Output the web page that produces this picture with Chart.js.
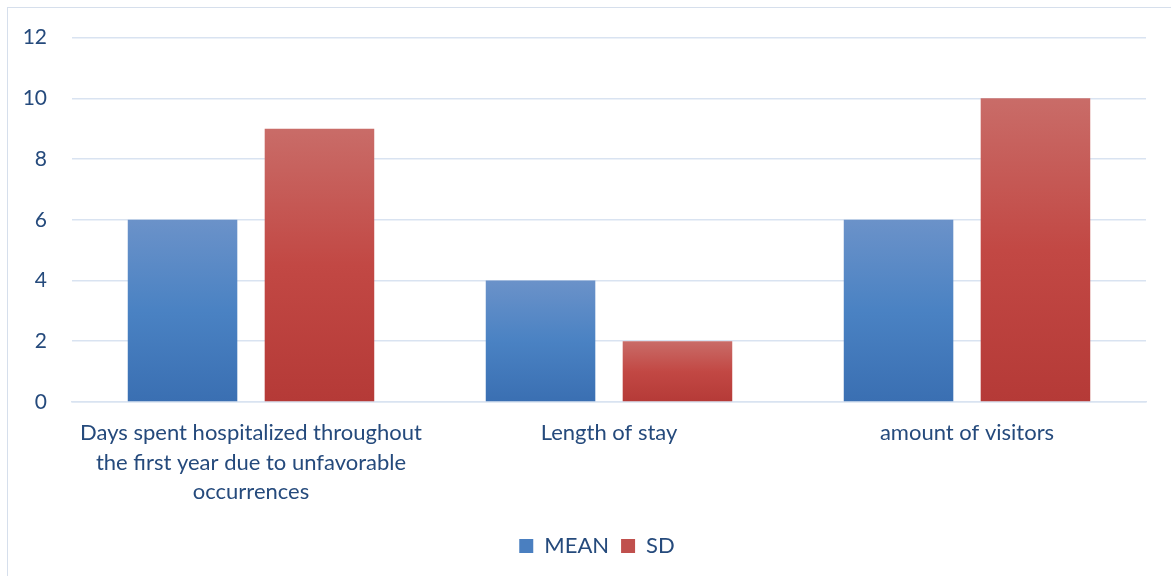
<!DOCTYPE html>
<html><head><meta charset="utf-8">
<script src="https://cdn.jsdelivr.net/npm/chart.js@4/dist/chart.umd.min.js"></script>
<style>
html,body{margin:0;padding:0;background:#fff;}
#frame{position:absolute;left:7px;top:7px;width:1200px;height:600px;border-left:1.5px solid #d6dfec;border-top:1.5px solid #d6dfec;}
#wrap{position:absolute;left:0;top:0;width:1171px;height:576px;}
</style></head>
<body>
<div id="frame"></div>
<div id="wrap"><canvas id="c" width="1171" height="576"></canvas></div>
<script>
const categories = [
  ["Days spent hospitalized throughout","the first year due to unfavorable","occurrences"],
  ["Length of stay"],
  ["amount of visitors"]
];
const meanValues = [6, 4, 6];
const sdValues = [9, 2, 10];
const seriesNames = ["MEAN", "SD"];
const yTicks = [0, 2, 4, 6, 8, 10, 12];

const textColor = '#254a7c';
const fontFam = 'Lato, "Open Sans", sans-serif';

function grad(top, mid, bottom) {
  return function(ctx) {
    const chart = ctx.chart;
    if (!chart.chartArea || ctx.type !== 'data') return bottom;
    const y = chart.scales.y;
    const yTop = y.getPixelForValue(ctx.raw);
    const yBot = y.getPixelForValue(0);
    const g = chart.ctx.createLinearGradient(0, yTop, 0, yBot);
    g.addColorStop(0, top);
    g.addColorStop(0.5, mid);
    g.addColorStop(1, bottom);
    return g;
  };
}

new Chart(document.getElementById('c'), {
  type: 'bar',
  data: {
    labels: categories,
    datasets: [
      { label: seriesNames[0], data: meanValues, backgroundColor: grad('#6b92c9', '#4a82c3', '#3a6fb2'), borderWidth: 0,
        categoryPercentage: 0.765, barPercentage: 0.8 },
      { label: seriesNames[1], data: sdValues, backgroundColor: grad('#c96c68', '#c24844', '#b53a37'), borderWidth: 0,
        categoryPercentage: 0.765, barPercentage: 0.8 }
    ]
  },
  options: {
    responsive: false,
    animation: false,
    devicePixelRatio: 1,
    layout: { padding: { left: 48, right: 25, top: 27, bottom: 9 } },
    plugins: {
      tooltip: { enabled: false },
      legend: {
        position: 'bottom',
        labels: {
          color: textColor,
          font: { family: fontFam, size: 22 },
          boxWidth: 14, boxHeight: 14,
          padding: 12,
          generateLabels: function(chart) {
            const cols = ['#4a7fc0', '#c0504d'];
            return chart.data.datasets.map((d, i) => ({
              text: d.label, fillStyle: cols[i], strokeStyle: cols[i], lineWidth: 0,
              fontColor: textColor, datasetIndex: i, hidden: false
            }));
          }
        }
      }
    },
    scales: {
      x: {
        grid: { display: false, drawTicks: false },
        border: { display: true, color: '#d9e3f1', width: 1.5 },
        ticks: { color: textColor, font: { family: fontFam, size: 22, lineHeight: 1.32 }, padding: 17, maxRotation: 0, autoSkip: false }
      },
      y: {
        min: yTicks[0], max: yTicks[yTicks.length - 1],
        afterFit: function(s) { s.width = 24; s._computeLabelArea = function() { return undefined; }; },
        grid: { color: '#d9e3f1', lineWidth: 1.5, drawTicks: false },
        border: { display: false },
        ticks: { color: textColor, font: { family: fontFam, size: 21 }, padding: 25, stepSize: yTicks[1] - yTicks[0] }
      }
    }
  }
});
</script>
</body></html>
